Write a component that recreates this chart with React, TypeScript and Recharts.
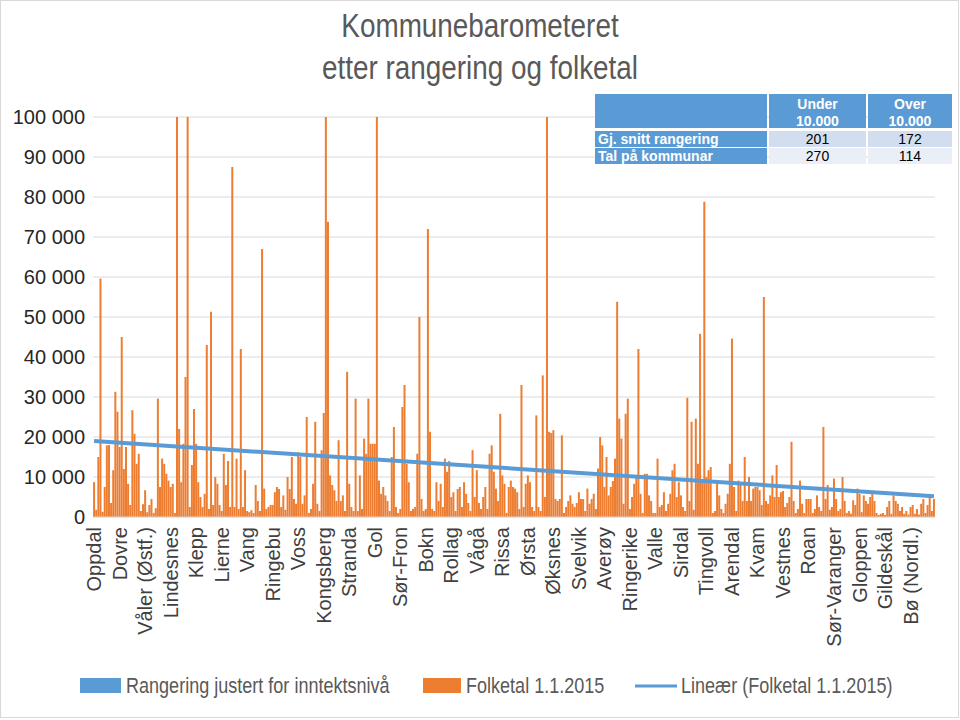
import React from 'react';
import { ComposedChart, Bar, XAxis, YAxis, CartesianGrid, ReferenceLine } from 'recharts';

// every 12th kommune gets a label on the category axis
const tickNames = [
    'Oppdal', 'Dovre', 'Våler (Østf.)', 'Lindesnes', 'Klepp', 'Lierne', 'Vang', 'Ringebu', 'Voss',
    'Kongsberg', 'Stranda', 'Gol', 'Sør-Fron', 'Bokn', 'Rollag', 'Vågå', 'Rissa', 'Ørsta', 'Øksnes',
    'Svelvik', 'Averøy', 'Ringerike', 'Valle', 'Sirdal', 'Tingvoll', 'Arendal', 'Kvam', 'Vestnes',
    'Roan', 'Sør-Varanger', 'Gloppen', 'Gildeskål', 'Bø (Nordl.)'
];

// Folketal 1.1.2015, in ranking order (one row per labelled block of 12)
const folketal = [
    8700, 1800, 15000, 59600, 1300, 7500, 17900, 18000, 3500, 11700, 31300, 26300,
    17500, 45000, 12000, 17500, 8300, 3000, 26700, 20800, 13300, 15800, 1500, 3200,
    6700, 1200, 3000, 4500, 1000, 2200, 29600, 7500, 14600, 13300, 10800, 9100,
    7500, 8300, 1000, 100000, 22000, 8700, 18300, 35000, 100000, 2500, 13000, 27000,
    18300, 8700, 5000, 2500, 5800, 43000, 2000, 51300, 3000, 10000, 8300, 3000,
    1500, 15800, 8000, 14000, 2500, 87500, 2500, 14600, 2000, 42000, 2500, 11700,
    1500, 1200, 1700, 1000, 8000, 4000, 1500, 67000, 7100, 2000, 2500, 3000,
    3000, 6200, 7500, 7000, 2500, 5400, 1800, 10000, 7000, 15000, 4500, 3300,
    16200, 15000, 3300, 5400, 25000, 1000, 2000, 8300, 23800, 3300, 1500, 16700,
    26000, 100000, 73800, 10400, 8000, 6700, 4000, 19200, 4000, 5400, 1500, 36300,
    8300, 2500, 1500, 29600, 1500, 10400, 2000, 19600, 15800, 29600, 18300, 18300,
    18300, 100000, 9100, 5800, 7500, 5400, 4000, 1500, 15000, 22500, 2500, 1000,
    2000, 27500, 33000, 13300, 8700, 1500, 2000, 2500, 15800, 50000, 4500, 1500,
    2000, 72000, 21300, 2000, 1500, 8700, 4000, 8300, 2500, 14600, 11300, 14000,
    5000, 6200, 1500, 7000, 7500, 2500, 8700, 5800, 3500, 1500, 16700, 5000,
    11700, 3500, 2000, 5000, 7500, 2000, 15800, 17900, 11300, 7100, 4000, 25800,
    10400, 8300, 1000, 7500, 9100, 7500, 7100, 6200, 2000, 33000, 2500, 8300,
    10400, 8700, 2500, 1500, 25400, 2500, 1500, 35400, 5000, 100000, 21300, 21000,
    21700, 4500, 4000, 4500, 20400, 1000, 2500, 4000, 5400, 3300, 2500, 3500,
    6200, 4500, 4500, 1500, 7100, 3300, 4500, 5800, 2000, 12100, 20000, 17900,
    7500, 15000, 5400, 7500, 9000, 14600, 53800, 24600, 19600, 3300, 25800, 29600,
    2000, 5000, 8300, 10000, 42000, 5800, 1000, 10800, 10800, 5400, 4000, 1000,
    1000, 14600, 2500, 3000, 6200, 1500, 3300, 5800, 11700, 13300, 5000, 8700,
    5400, 2500, 1500, 29800, 4000, 23800, 1800, 24600, 13300, 45800, 9100, 78800,
    10000, 11700, 12500, 1000, 1500, 9100, 5400, 2000, 1000, 3300, 5800, 13300,
    44600, 7500, 1500, 9100, 8300, 4000, 15000, 4000, 10000, 4000, 7100, 7500,
    7500, 6700, 3000, 55000, 4000, 3300, 5400, 10400, 5000, 13000, 5000, 6200,
    6500, 2500, 3500, 5000, 18800, 4000, 1000, 2000, 9100, 3300, 1000, 4500,
    4500, 4500, 1000, 2000, 5400, 2500, 1500, 22500, 4500, 8000, 1800, 2500,
    9600, 4500, 1500, 2000, 10000, 4000, 1000, 1500, 800, 4200, 3000, 7100,
    5800, 1200, 5400, 4000, 3300, 5000, 5800, 4000, 1000, 500, 800, 1000,
    500, 2500, 4000, 800, 5400, 4000, 3300, 1500, 2500, 800, 1500, 600,
    2500, 3000, 800, 2000, 600, 3300, 4500, 1000, 3000, 5400, 1500, 4500
];

// linear trend of folketal, read at first and last kommune
const trendStart = 19000;
const trendEnd = 5200;

const yTicks = [0, 10000, 20000, 30000, 40000, 50000, 60000, 70000, 80000, 90000, 100000];

// summary table in the top right corner
const tableHeads = ['Under\n10.000', 'Over\n10.000'];
const tableRows = ['Gj. snitt rangering', 'Tal på kommunar'];
const tableValues = [[201, 172], [270, 114]];

const BLUE = '#5b9bd5';
const ORANGE = '#ed7d31';
const SANS = '"Liberation Sans", Arial, sans-serif';

const data = folketal.map((v, i) => ({ idx: i, folketal: v }));

const fmt = (v: number) => String(v).replace(/\B(?=(\d{3})+(?!\d))/g, ' ');

// no narrow font installed, so squeeze a regular one horizontally
const NarrowText = ({ x, y, size, anchor = 'start', children }: any) => (
    <text
        transform={`translate(${x},${y}) scale(0.82,1)`}
        textAnchor={anchor}
        fontFamily={SANS}
        fontSize={size}
        fill="#595959"
    >
        {children}
    </text>
);

const XTick = (props: any) => {
    const { x, y, payload } = props;
    if (payload.value % 12 !== 0) return null;
    const name = tickNames[payload.value / 12];
    if (!name) return null;
    return (
        <text
            transform={`translate(${x},${y + 2}) rotate(-90)`}
            textAnchor="end"
            dy="0.35em"
            fontFamily={SANS}
            fontSize={20}
            fill="#404040"
        >
            {name}
        </text>
    );
};

const Overlay = () => {
    const cols = [{ x: 595, w: 172 }, { x: 769, w: 97 }, { x: 868, w: 84 }];
    const rowY = [131, 148];
    const cellFill = ['#d2deef', '#eaeff7'];
    return (
        <svg width={960} height={720} style={{ position: 'absolute', left: 0, top: 0, pointerEvents: 'none' }}>
            <rect x={0.5} y={0.5} width={958} height={717} fill="none" stroke="#d9d9d9" />
            <NarrowText x={480} y={37} size={34} anchor="middle">Kommunebarometeret</NarrowText>
            <NarrowText x={480} y={79} size={34} anchor="middle">etter rangering og folketal</NarrowText>

            {/* table */}
            {cols.map((c, i) => (
                <rect key={'h' + i} x={c.x} y={94} width={c.w} height={34} fill={BLUE} />
            ))}
            {tableHeads.map((h, i) => {
                const c = cols[i + 1];
                const [a, b] = h.split('\n');
                return (
                    <g key={'ht' + i} fontFamily={SANS} fontSize={14} fontWeight="bold" fill="#fff" textAnchor="middle">
                        <text x={c.x + c.w / 2} y={109}>{a}</text>
                        <text x={c.x + c.w / 2} y={126}>{b}</text>
                    </g>
                );
            })}
            {tableRows.map((r, ri) => (
                <g key={'r' + ri}>
                    <rect x={cols[0].x} y={rowY[ri]} width={cols[0].w} height={16} fill={BLUE} />
                    <text x={cols[0].x + 3} y={rowY[ri] + 13} fontFamily={SANS} fontSize={14} fontWeight="bold" fill="#fff">
                        {r}
                    </text>
                    {tableValues[ri].map((v, ci) => {
                        const c = cols[ci + 1];
                        return (
                            <g key={ci}>
                                <rect x={c.x} y={rowY[ri]} width={c.w} height={16} fill={cellFill[ri]} />
                                <text x={c.x + c.w / 2} y={rowY[ri] + 13} textAnchor="middle" fontFamily={SANS} fontSize={14} fill="#000">
                                    {v}
                                </text>
                            </g>
                        );
                    })}
                </g>
            ))}

            {/* legend */}
            <rect x={80} y={678} width={41} height={15} fill={BLUE} />
            <NarrowText x={126} y={693} size={22}>Rangering justert for inntektsnivå</NarrowText>
            <rect x={423} y={678} width={38} height={15} fill={ORANGE} />
            <NarrowText x={466} y={693} size={22}>Folketal 1.1.2015</NarrowText>
            <line x1={635} x2={677} y1={686} y2={686} stroke={BLUE} strokeWidth={3} />
            <NarrowText x={681} y={693} size={22}>Lineær (Folketal 1.1.2015)</NarrowText>
        </svg>
    );
};

const App: React.FC = () => {
    return (
        <div style={{ position: 'absolute', left: 0, top: 0, width: 960, height: 720, background: '#fff' }}>
            <ComposedChart
                width={960}
                height={720}
                data={data}
                margin={{ top: 117, right: 25, left: 0, bottom: 0 }}
                barCategoryGap="4%"
            >
                <CartesianGrid vertical={false} stroke="#d9d9d9" />
                <XAxis
                    dataKey="idx"
                    type="category"
                    interval={11}
                    tick={<XTick />}
                    tickLine={false}
                    axisLine={{ stroke: '#d9d9d9' }}
                    height={203}
                />
                <YAxis
                    domain={[0, 100000]}
                    ticks={yTicks}
                    tickFormatter={fmt}
                    allowDataOverflow
                    axisLine={false}
                    tickLine={false}
                    width={93}
                    tick={{ fontSize: 20, fill: '#262626', fontFamily: SANS }}
                />
                <Bar dataKey="folketal" fill={ORANGE} isAnimationActive={false} />
                <ReferenceLine
                    segment={[{ x: 0, y: trendStart }, { x: folketal.length - 1, y: trendEnd }]}
                    stroke={BLUE}
                    strokeWidth={4}
                    ifOverflow="visible"
                />
            </ComposedChart>
            <Overlay />
        </div>
    );
};

export default App;
